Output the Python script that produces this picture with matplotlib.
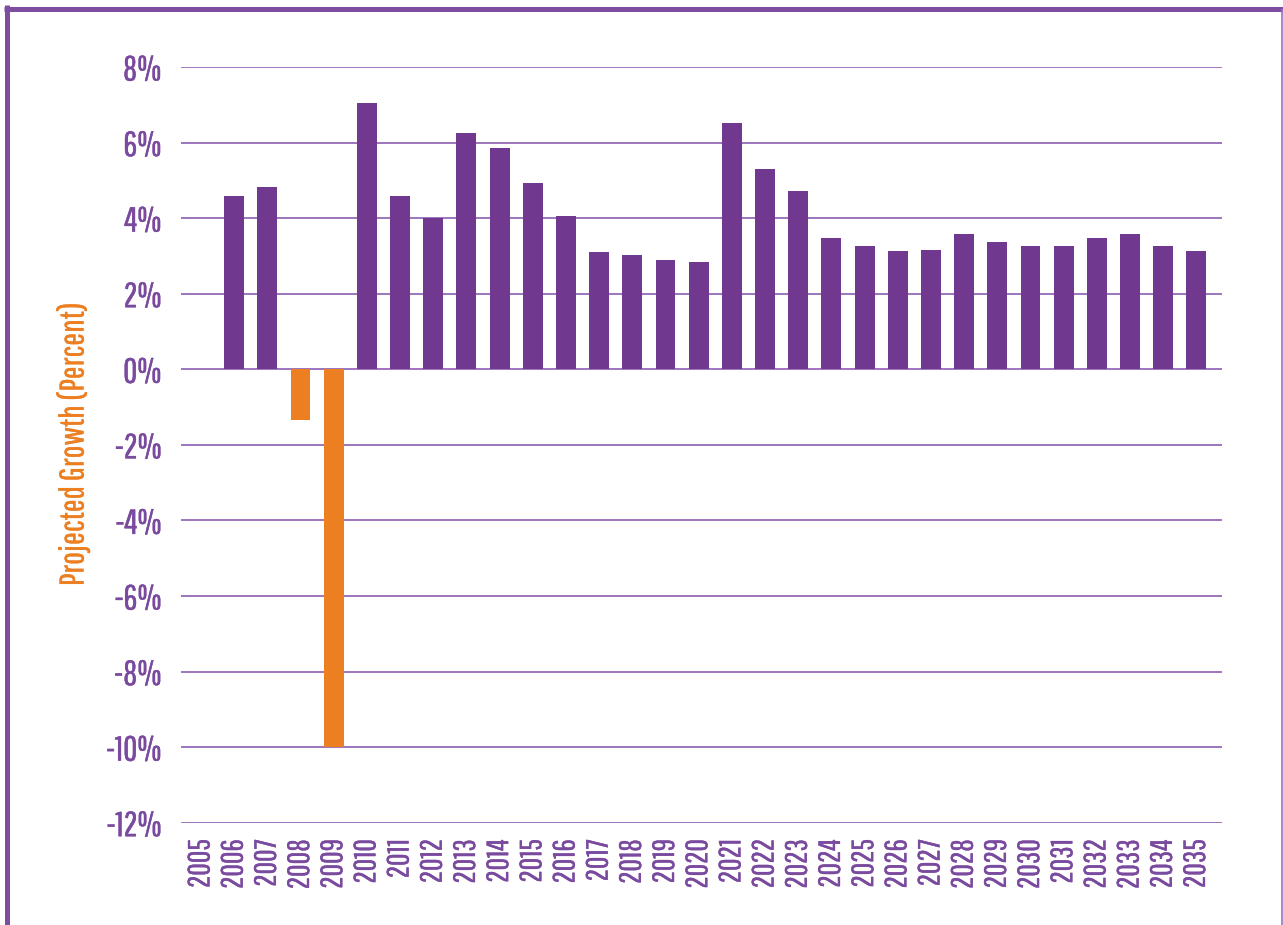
import matplotlib
matplotlib.use("Agg")
import matplotlib.pyplot as plt
from matplotlib.lines import Line2D
from matplotlib import font_manager
import matplotlib.patheffects as pe

years = [str(y) for y in range(2005, 2036)]
growth = [None, 4.58, 4.82, -1.35, -10.0, 7.05, 4.58, 4.0, 6.25, 5.85, 4.93, 4.05,
          3.10, 3.02, 2.89, 2.83, 6.52, 5.30, 4.72, 3.47, 3.26, 3.13, 3.15,
          3.58, 3.37, 3.26, 3.26, 3.47, 3.58, 3.26, 3.13]
ytick_vals = [-12, -10, -8, -6, -4, -2, 0, 2, 4, 6, 8]
ytick_labels = [f"{v}%" for v in ytick_vals]
ylabel = "Projected Growth (Percent)"

PURPLE = "#70388f"
ORANGE = "#ec7f22"
GRID = "#8c5db4"
TEXT = "#7a4a9f"
FRAME = "#7d4ea0"

names = {f.name for f in font_manager.fontManager.ttflist}
pref = ["Pathway Gothic One", "Sofia Sans Extra Condensed", "Roboto Condensed", "DejaVu Sans"]
fam = [n for n in pref if n in names]
plt.rcParams["font.family"] = fam

fig = plt.figure(figsize=(12.83, 9.25), dpi=100)
ax = fig.add_axes([0.1411, 0.1106, 0.8111, 0.8170])

xs = list(range(len(years)))
vals = [0 if v is None else v for v in growth]
colors = [ORANGE if v < 0 else PURPLE for v in vals]
ax.bar(xs, vals, width=0.6, color=colors, zorder=3)

ax.set_xlim(-0.6, 30.76)
ax.set_ylim(-12, 8)
ax.set_yticks(ytick_vals)
ax.set_yticklabels(ytick_labels)
ax.set_xticks(xs)
ax.set_xticklabels(years, rotation=90)
for v in ytick_vals:
    ax.axhline(v, color=GRID, lw=1.2, zorder=1)
for s in ax.spines.values():
    s.set_visible(False)
ax.tick_params(axis="y", length=0, pad=14, labelsize=25, labelcolor=TEXT)
ax.tick_params(axis="x", length=0, pad=12, labelsize=22, labelcolor=TEXT)
ax.set_ylabel(ylabel, color=ORANGE, fontsize=24.5)
ax.yaxis.set_label_coords(-0.0875, 0.5)

for t in ax.get_yticklabels() + ax.get_xticklabels():
    t.set_path_effects([pe.withStroke(linewidth=0.3, foreground=TEXT)])
ax.yaxis.label.set_path_effects([pe.withStroke(linewidth=0.25, foreground=ORANGE)])

# frame lines
fig.add_artist(Line2D([6.5/1283, 6.5/1283], [0, 1 - 5/925], transform=fig.transFigure,
                      color=FRAME, lw=3.6, solid_capstyle="butt"))
fig.add_artist(Line2D([4/1283, 1], [1 - 8.5/925, 1 - 8.5/925], transform=fig.transFigure,
                      color=FRAME, lw=3.6, solid_capstyle="butt"))
fig.add_artist(Line2D([1281.7/1283, 1281.7/1283], [0, 1 - 8.5/925], transform=fig.transFigure,
                      color="#9a72c0", lw=1.2, solid_capstyle="butt"))

fig.savefig("out.png", dpi=100)
